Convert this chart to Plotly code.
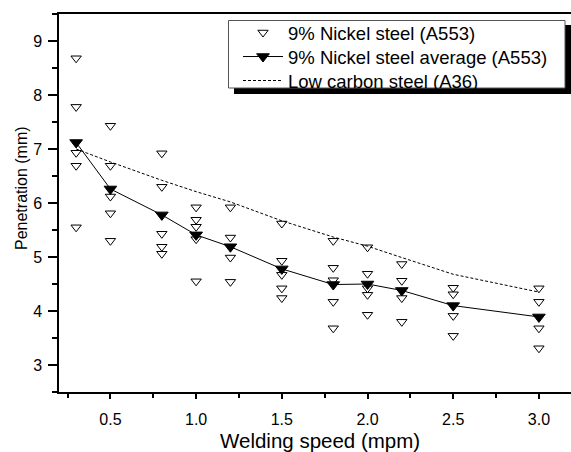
import plotly.graph_objects as go

# ---------------- data ----------------
speeds = [0.3, 0.5, 0.8, 1.0, 1.2, 1.5, 1.8, 2.0, 2.2, 2.5, 3.0]

# individual 9% Nickel steel measurements (A553)
nickel_x = (
    [0.3] * 5 + [0.5] * 5 + [0.8] * 5 + [1.0] * 5 + [1.2] * 4 + [1.5] * 5
    + [1.8] * 5 + [2.0] * 5 + [2.2] * 4 + [2.5] * 4 + [3.0] * 4
)
nickel_y = [
    8.68, 7.78, 6.93, 6.69, 5.55,
    7.43, 6.69, 6.12, 5.81, 5.30,
    6.92, 6.30, 5.43, 5.19, 5.06,
    5.92, 5.69, 5.56, 5.33, 4.55,
    5.92, 5.36, 4.99, 4.54,
    5.62, 4.93, 4.67, 4.42, 4.24,
    5.30, 4.80, 4.57, 4.17, 3.68,
    5.18, 4.69, 4.42, 4.30, 3.93,
    4.87, 4.56, 4.24, 3.80,
    4.43, 4.31, 3.91, 3.54,
    4.42, 4.17, 3.68, 3.31,
]

nickel_avg = [7.12, 6.26, 5.78, 5.41, 5.19, 4.78, 4.49, 4.50, 4.38, 4.10, 3.89]
low_carbon = [7.00, 6.76, 6.42, 6.21, 6.02, 5.67, 5.37, 5.20, 4.99, 4.68, 4.35]

names = ["9% Nickel steel (A553)", "9% Nickel steel average (A553)", "Low carbon steel (A36)"]

x_title = "Welding speed (mpm)"
y_title = "Penetration (mm)"

# ---------------- figure ----------------
FONT = "Liberation Sans, Arial, sans-serif"
W, H = 571, 452
ML, MR, MT, MB = 59, 0, 14, 60
PW, PH = W - ML - MR, H - MT - MB


def px2paper_x(px):
    return (px - ML) / PW


def px2paper_y(py):
    return (H - MB - py) / PH


fig = go.Figure()

fig.add_trace(go.Scatter(
    x=nickel_x, y=nickel_y, mode="markers", name=names[0], legend="legend",
    marker=dict(symbol="triangle-down", size=9, color="white",
                line=dict(color="black", width=1)),
))
fig.add_trace(go.Scatter(
    x=speeds, y=nickel_avg, mode="lines+markers", name=names[1], legend="legend2",
    line=dict(color="black", width=1),
    marker=dict(symbol="triangle-down", size=11, color="black",
                line=dict(color="black", width=1)),
))
fig.add_trace(go.Scatter(
    x=speeds, y=low_carbon, mode="lines", name=names[2], legend="legend3",
    line=dict(color="black", width=1, dash="3px,2px"),
))

# legend frame with drop shadow
fig.add_shape(type="rect", xref="paper", yref="paper", layer="above",
              x0=px2paper_x(234), x1=px2paper_x(571),
              y0=px2paper_y(94), y1=px2paper_y(25),
              fillcolor="black", line=dict(width=0))
fig.add_shape(type="rect", xref="paper", yref="paper", layer="above",
              x0=px2paper_x(228.5), x1=px2paper_x(565),
              y0=px2paper_y(88), y1=px2paper_y(20.5),
              fillcolor="white", line=dict(color="#555555", width=1))


def legend_at(top_px):
    return dict(
        x=px2paper_x(238), y=px2paper_y(top_px), xanchor="left", yanchor="top",
        bgcolor="rgba(0,0,0,0)", borderwidth=0,
        font=dict(family=FONT, size=18.5, color="black"),
        itemwidth=40,
    )


# axis titles as annotations (placed like the reference)
fig.add_annotation(text=x_title, xref="paper", yref="paper",
                   x=px2paper_x(320), y=px2paper_y(441),
                   xanchor="center", yanchor="middle", showarrow=False,
                   font=dict(family=FONT, size=20.5, color="black"))
fig.add_annotation(text=y_title, xref="paper", yref="paper",
                   x=px2paper_x(21), y=px2paper_y(188), textangle=-90,
                   xanchor="center", yanchor="middle", showarrow=False,
                   font=dict(family=FONT, size=16, color="black"))

fig.update_layout(
    width=W, height=H,
    margin=dict(l=ML, r=MR, t=MT, b=MB),
    paper_bgcolor="white", plot_bgcolor="white",
    font=dict(family=FONT, color="black", size=16),
    showlegend=True,
    legend=legend_at(14),
    legend2=legend_at(38),
    legend3=legend_at(62),
    xaxis=dict(
        range=[0.2, 0.2 + PW / 171.4],
        showgrid=False, zeroline=False,
        showline=True, linecolor="black", linewidth=1.5, mirror=True,
        ticks="outside", ticklen=5, tickwidth=1.5, tickcolor="black",
        tick0=0.5, dtick=0.5, tickformat=".1f",
        tickfont=dict(size=16), ticklabelstandoff=7,
        minor=dict(ticks="outside", dtick=0.25, tick0=0.25, ticklen=4,
                   tickwidth=1.5, tickcolor="black", showgrid=False),
        automargin=False,
    ),
    yaxis=dict(
        range=[2.5, 9.5],
        showgrid=False, zeroline=False,
        showline=True, linecolor="black", linewidth=1.5, mirror=False,
        ticks="outside", ticklen=9, tickwidth=1.5, tickcolor="black",
        tick0=3, dtick=1, tickfont=dict(size=16), ticklabelstandoff=3,
        minor=dict(ticks="outside", dtick=0.5, tick0=2.5, ticklen=5,
                   tickwidth=1.5, tickcolor="black", showgrid=False),
        automargin=False,
    ),
)

fig.write_html("out.html", config={"displayModeBar": False},
               post_script="document.body.style.margin='0px';")
